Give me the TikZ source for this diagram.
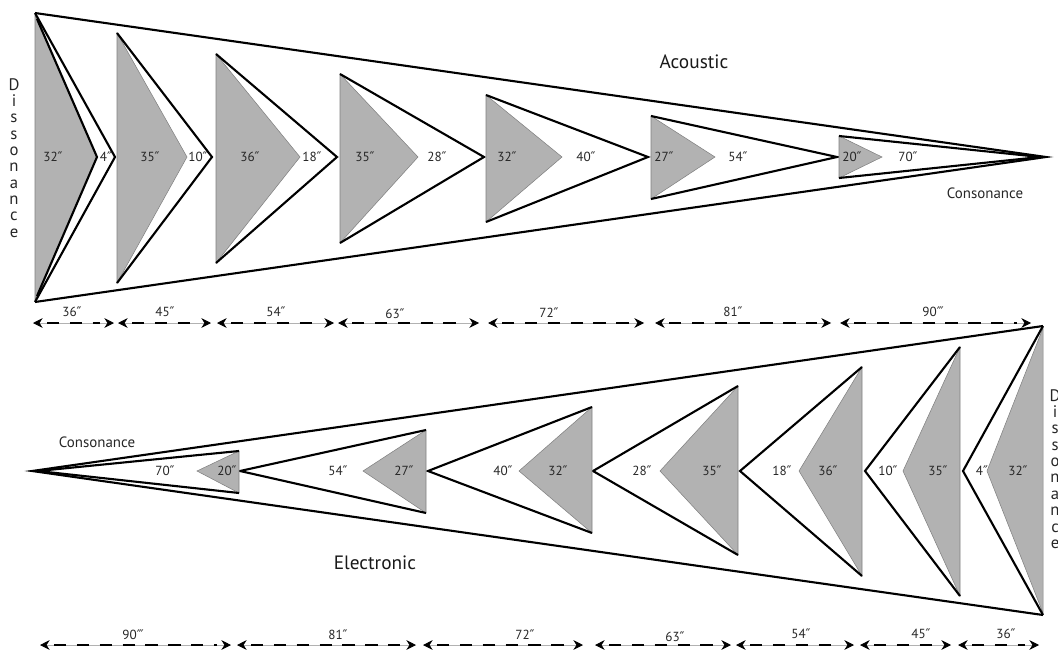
\documentclass[tikz,border=0pt]{standalone}
\usepackage{fontspec}
\setmainfont{PT Sans}
\newfontfamily\primefont{DejaVu Sans}
\usetikzlibrary{arrows.meta}

\newcommand{\inchmark}{{\primefont\char"2033}}
\newcommand{\tripmark}{{\primefont\char"2034}}

\begin{document}
\begin{tikzpicture}[x=0.02cm, y=-0.02cm,
    chevron/.style={line width=1.2pt},
    grayfill/.style={fill=black!30, draw=black!50, line width=0.3pt},
    lbl/.style={text=black!85, font=\fontsize{7.5}{8}\selectfont, inner sep=0pt},
    heading/.style={text=black!90, font=\fontsize{11}{12}\selectfont, inner sep=0pt},
    sidetext/.style={text=black!85, font=\fontsize{8.5}{9}\selectfont, inner sep=0pt},
    vertword/.style={text=black!85, font=\fontsize{9.5}{9.3}\selectfont, align=center, inner sep=0pt},
    dimline/.style={black!30, line width=0.5pt, {Stealth[black, length=5.5pt, width=5.5pt]}-{Stealth[black, length=5.5pt, width=5.5pt]},
        postaction={draw=black, -, line width=0.8pt, dash pattern=on 7pt off 6pt, shorten <=8pt, shorten >=8pt}}]

    \useasboundingbox (0,0) rectangle (1058,652);
    \clip (0,0) rectangle (1058,652);

        %Acoustic
        \draw[chevron] (35,13) -- (1046,157) -- (35,302);

        \fill[grayfill] (35,15) -- (97,157) -- (35,300) -- cycle;
        \draw[chevron] (37,19) -- (97,157) -- (37,296);
        \draw[chevron] (35,13) -- (115,157) -- (35,302);

        \fill[grayfill] (117,33) -- (187,157) -- (117,283) -- cycle;
        \draw[chevron] (117,33) -- (212,157) -- (117,283);

        \fill[grayfill] (216,54) -- (300,157) -- (216,263) -- cycle;
        \draw[chevron] (216,54) -- (337,157) -- (216,263);

        \fill[grayfill] (340,74) -- (418,157) -- (340,243) -- cycle;
        \draw[chevron] (340,74) -- (484,157) -- (340,243);

        \fill[grayfill] (486,95) -- (562,157) -- (486,222) -- cycle;
        \draw[chevron] (486,95) -- (648,157) -- (486,222);

        \fill[grayfill] (651,116) -- (715,157) -- (651,199) -- cycle;
        \draw[chevron] (651,116) -- (837,157) -- (651,199);

        \fill[grayfill] (839,136) -- (882,157) -- (839,178) -- cycle;
        \draw[chevron] (839,136) -- (1040,157) -- (839,178);

        \node[lbl] (ta1) at (53,157) {32\inchmark};
        \node[lbl] (tb1) at (106,157) {4\inchmark};
        \node[lbl] (ta2) at (150,157) {35\inchmark};
        \node[lbl] (tb2) at (198,157) {10\inchmark};
        \node[lbl] (ta3) at (250,157) {36\inchmark};
        \node[lbl] (tb3) at (312,157) {18\inchmark};
        \node[lbl] (ta4) at (365,157) {35\inchmark};
        \node[lbl] (tb4) at (437,157) {28\inchmark};
        \node[lbl] (ta5) at (507,157) {32\inchmark};
        \node[lbl] (tb5) at (586,157) {40\inchmark};
        \node[lbl] (ta6) at (664,157) {27\inchmark};
        \node[lbl] (tb6) at (738,157) {54\inchmark};
        \node[lbl] (ta7) at (852,157) {20\inchmark};
        \node[lbl] (tb7) at (908,157) {70\inchmark};

        \node[heading] (acoustic) at (694,62) {Acoustic};
        \node[sidetext] (consTop) at (985,193) {Consonance};
        \node[vertword] (dissLeft) at (14,158) {D\\i\\s\\s\\o\\n\\a\\n\\c\\e};

        %Acoustic lengths
        \draw[dimline] (33,323) coordinate (u0) -- (114,323) coordinate (u1);
        \draw[dimline] (118,323) coordinate (u2) -- (211,323) coordinate (u3);
        \draw[dimline] (217,323) coordinate (u4) -- (334,323) coordinate (u5);
        \draw[dimline] (338,323) coordinate (u6) -- (479,323) coordinate (u7);
        \draw[dimline] (488,323) coordinate (u8) -- (644,323) coordinate (u9);
        \draw[dimline] (655,323) coordinate (u10) -- (831,323) coordinate (u11);
        \draw[dimline] (840,323) coordinate (u12) -- (1031,323) coordinate (u13);

        \node[lbl] (ud1) at (72,312) {36\inchmark};
        \node[lbl] (ud2) at (165,312) {45\inchmark};
        \node[lbl] (ud3) at (276,312) {54\inchmark};
        \node[lbl] (ud4) at (395,314) {63\inchmark};
        \node[lbl] (ud5) at (549,313) {72\inchmark};
        \node[lbl] (ud6) at (733,312) {81\inchmark};
        \node[lbl] (ud7) at (933,312) {90\tripmark};

        %Electronic
        \draw[chevron] (1043,326) -- (32,471) -- (1043,615);

        \fill[grayfill] (1043,328) -- (987,471) -- (1043,613) -- cycle;
        \draw[chevron] (1043,326) -- (963,471) -- (1043,615);

        \fill[grayfill] (960,347) -- (903,471) -- (960,596) -- cycle;
        \draw[chevron] (960,347) -- (865,471) -- (960,596);

        \fill[grayfill] (862,367) -- (799,471) -- (862,576) -- cycle;
        \draw[chevron] (862,367) -- (740,471) -- (862,576);

        \fill[grayfill] (738,386) -- (660,471) -- (738,555) -- cycle;
        \draw[chevron] (738,386) -- (593,471) -- (738,555);

        \fill[grayfill] (592,407) -- (519,471) -- (592,533) -- cycle;
        \draw[chevron] (592,407) -- (428,471) -- (592,533);

        \fill[grayfill] (426,430) -- (363,471) -- (426,513) -- cycle;
        \draw[chevron] (426,430) -- (240,471) -- (426,513);

        \fill[grayfill] (239,451) -- (197,471) -- (239,493) -- cycle;
        \draw[chevron] (239,451) -- (38,471) -- (239,493);

        \node[lbl] (bb1) at (982,471) {4\inchmark};
        \node[lbl] (ba1) at (1018,471) {32\inchmark};
        \node[lbl] (bb2) at (888,471) {10\inchmark};
        \node[lbl] (ba2) at (938,471) {35\inchmark};
        \node[lbl] (bb3) at (782,471) {18\inchmark};
        \node[lbl] (ba3) at (828,471) {36\inchmark};
        \node[lbl] (bb4) at (642,471) {28\inchmark};
        \node[lbl] (ba4) at (712,471) {35\inchmark};
        \node[lbl] (bb5) at (503,471) {40\inchmark};
        \node[lbl] (ba5) at (558,471) {32\inchmark};
        \node[lbl] (bb6) at (338,471) {54\inchmark};
        \node[lbl] (ba6) at (404,471) {27\inchmark};
        \node[lbl] (bb7) at (165,471) {70\inchmark};
        \node[lbl] (ba7) at (227,471) {20\inchmark};

        \node[heading] (electronic) at (375,563) {Electronic};
        \node[sidetext] (consBottom) at (97,442) {Consonance};
        \node[vertword] (dissRight) at (1055,469) {D\\i\\s\\s\\o\\n\\a\\n\\c\\e};

        %Electronic lengths
        \draw[dimline] (40,645) coordinate (v0) -- (231,645) coordinate (v1);
        \draw[dimline] (237,645) coordinate (v2) -- (416,645) coordinate (v3);
        \draw[dimline] (423,645) coordinate (v4) -- (583,645) coordinate (v5);
        \draw[dimline] (595,645) coordinate (v6) -- (731,645) coordinate (v7);
        \draw[dimline] (736,645) coordinate (v8) -- (854,645) coordinate (v9);
        \draw[dimline] (860,645) coordinate (v10) -- (951,645) coordinate (v11);
        \draw[dimline] (958,645) coordinate (v12) -- (1039,645) coordinate (v13);

        \node[lbl] (vd1) at (133,635) {90\tripmark};
        \node[lbl] (vd2) at (338,635) {81\inchmark};
        \node[lbl] (vd3) at (525,635) {72\inchmark};
        \node[lbl] (vd4) at (675,637) {63\inchmark};
        \node[lbl] (vd5) at (801,634) {54\inchmark};
        \node[lbl] (vd6) at (921,634) {45\inchmark};
        \node[lbl] (vd7) at (1006,634) {36\inchmark};

    \end{tikzpicture}
\end{document}
